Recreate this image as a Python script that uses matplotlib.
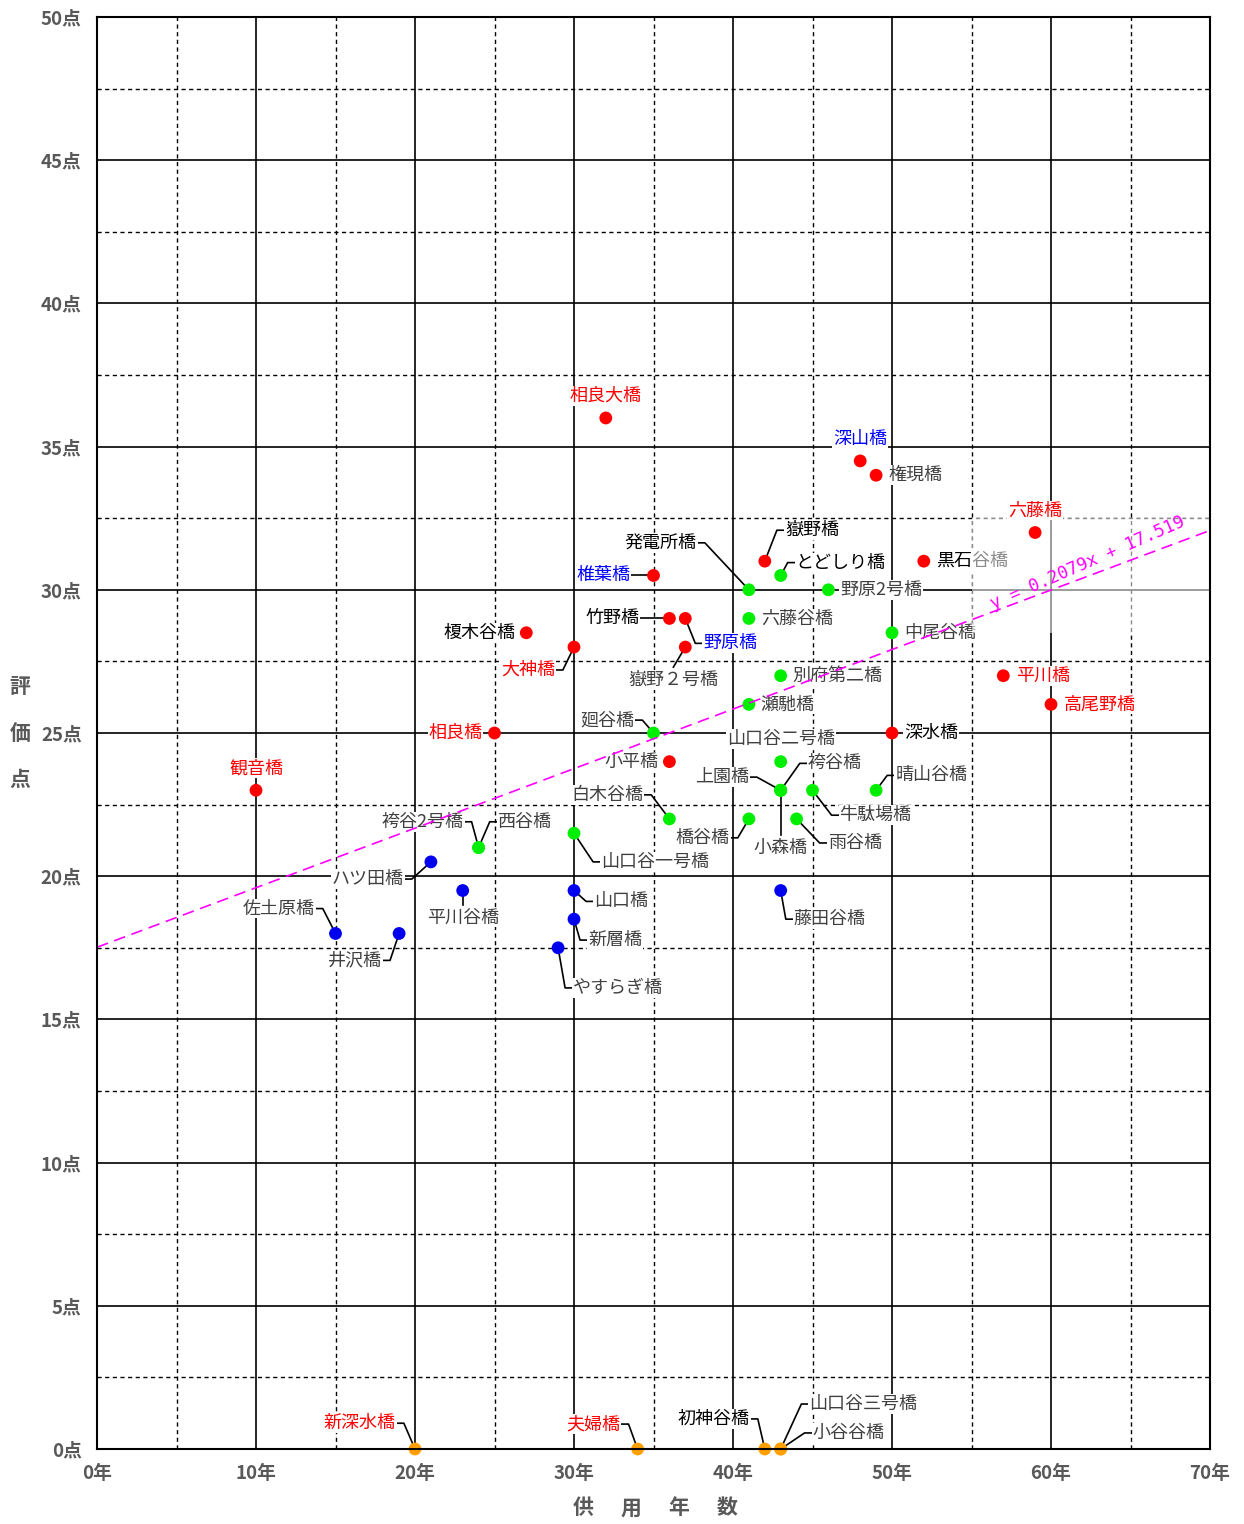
import matplotlib
matplotlib.use('Agg')
from matplotlib import pyplot as plt
from matplotlib.patches import Rectangle
from matplotlib.ticker import MultipleLocator

plt.rcParams['font.family'] = ['Noto Sans CJK JP', 'DejaVu Sans']

# --- data: bridges by group (years in service, score) ---
red_names = ['相良大橋', '深山橋', '権現橋', '六藤橋', '嶽野橋', '黒石谷橋', '椎葉橋',
             '竹野橋', '野原橋', '嶽野２号橋', '榎木谷橋', '大神橋', '平川橋', '高尾野橋',
             '相良橋', '深水橋', '小平橋', '観音橋']
red_years = [32, 48, 49, 59, 42, 52, 35, 36, 37, 37, 27, 30, 57, 60, 25, 50, 36, 10]
red_scores = [36, 34.5, 34, 32, 31, 31, 30.5, 29, 29, 28, 28.5, 28, 27, 26, 25, 25, 24, 23]

green_names = ['発電所橋', 'とどしり橋', '野原2号橋', '六藤谷橋', '中尾谷橋', '別府第二橋',
               '瀬馳橋', '廻谷橋', '山口谷二号橋', '袴谷橋', '上園橋', '小森橋', '牛駄場橋',
               '晴山谷橋', '白木谷橋', '橋谷橋', '雨谷橋', '西谷橋', '袴谷2号橋', '山口谷一号橋']
green_years = [41, 43, 46, 41, 50, 43, 41, 35, 43, 43, 43, 43, 45, 49, 36, 41, 44, 24, 24, 30]
green_scores = [30, 30.5, 30, 29, 28.5, 27, 26, 25, 24, 23, 23, 23, 23, 23, 22, 22, 22, 21, 21, 21.5]

blue_names = ['ハツ田橋', '平川谷橋', '佐土原橋', '井沢橋', '山口橋', '新層橋', 'やすらぎ橋', '藤田谷橋']
blue_years = [21, 23, 15, 19, 30, 30, 29, 43]
blue_scores = [20.5, 19.5, 18, 18, 19.5, 18.5, 17.5, 19.5]

orange_names = ['新深水橋', '夫婦橋', '初神谷橋', '山口谷三号橋', '小谷谷橋']
orange_years = [20, 34, 42, 43, 43]
orange_scores = [0, 0, 0, 0, 0]

trend_slope = 0.2079
trend_intercept = 17.519

red_text = ['相良大橋', '六藤橋', '大神橋', '相良橋', '観音橋', '平川橋', '高尾野橋', '新深水橋', '夫婦橋']
blue_text = ['深山橋', '椎葉橋', '野原橋']
black_text = ['嶽野橋', '発電所橋', '竹野橋', '榎木谷橋', '黒石谷橋', 'とどしり橋', '深水橋', '初神谷橋']

x_label_chars = ['供', '用', '年', '数']

# label placement: offset from point (years, points), alignment, leader type
label_layout = {
    '相良大橋': (0, 0.77, 'center', None),
    '深山橋': (0, 0.77, 'center', None),
    '権現橋': (0.75, 0, 'left', None),
    '六藤橋': (0, 0.77, 'center', None),
    '嶽野橋': (1.26, 1.08, 'left', 'elbow'),
    '黒石谷橋': (0.75, 0, 'left', None),
    '椎葉橋': (-1.45, 0, 'right', 'elbow'),
    '竹野橋': (-1.9, 0, 'right', 'elbow'),
    '野原橋': (1.13, -0.87, 'left', 'elbow'),
    '嶽野２号橋': (-0.75, -1.15, 'center', 'top'),
    '榎木谷橋': (-0.7, 0, 'right', None),
    '大神橋': (-1.2, -0.8, 'right', 'elbow'),
    '平川橋': (0.8, 0, 'left', None),
    '高尾野橋': (0.8, 0, 'left', None),
    '相良橋': (-0.75, 0, 'right', None),
    '深水橋': (0.75, 0, 'left', None),
    '小平橋': (-0.7, 0, 'right', None),
    '観音橋': (0, 0.77, 'center', None),
    '発電所橋': (-3.27, 1.64, 'right', 'elbow'),
    'とどしり橋': (0.94, 0.45, 'left', 'elbow'),
    '野原2号橋': (0.75, 0, 'left', None),
    '六藤谷橋': (0.75, 0, 'left', None),
    '中尾谷橋': (0.75, 0, 'left', None),
    '別府第二橋': (0.75, 0, 'left', None),
    '瀬馳橋': (0.75, 0, 'left', None),
    '廻谷橋': (-1.2, 0.45, 'right', 'elbow'),
    '山口谷二号橋': (0, 0.8, 'center', None),
    '袴谷橋': (1.7, 0.94, 'left', 'elbow'),
    '上園橋': (-2.0, 0.46, 'right', 'elbow'),
    '小森橋': (0, -2.0, 'center', 'top'),
    '牛駄場橋': (1.7, -0.87, 'left', 'elbow'),
    '晴山谷橋': (1.2, 0.52, 'left', 'elbow'),
    '白木谷橋': (-1.64, 0.84, 'right', 'elbow'),
    '橋谷橋': (-1.2, -0.66, 'right', 'elbow'),
    '雨谷橋': (1.95, -0.84, 'left', 'elbow'),
    '西谷橋': (1.2, 0.9, 'left', 'elbow'),
    '袴谷2号橋': (-0.94, 0.9, 'right', 'elbow'),
    '山口谷一号橋': (1.7, -1.0, 'left', 'elbow'),
    'ハツ田橋': (-1.7, -0.6, 'right', 'elbow'),
    '平川谷橋': (0, -0.94, 'center', 'top'),
    '佐土原橋': (-1.3, 0.87, 'right', 'elbow'),
    '井沢橋': (-1.07, -0.94, 'right', 'elbow'),
    '山口橋': (1.26, -0.38, 'left', 'elbow'),
    '新層橋': (0.88, -0.73, 'left', 'elbow'),
    'やすらぎ橋': (0.94, -1.4, 'left', 'elbow'),
    '藤田谷橋': (0.82, -1.0, 'left', 'elbow'),
    '新深水橋': (-1.2, 0.9, 'right', 'elbow'),
    '夫婦橋': (-1.07, 0.87, 'right', 'elbow'),
    '初神谷橋': (-0.94, 1.05, 'right', 'elbow'),
    '山口谷三号橋': (1.8, 1.57, 'left', 'elbow'),
    '小谷谷橋': (2.0, 0.56, 'left', 'elbow'),
}

groups = [
    (red_names, red_years, red_scores, '#ff0000'),
    (green_names, green_years, green_scores, '#00ee00'),
    (blue_names, blue_years, blue_scores, '#0000ee'),
    (orange_names, orange_years, orange_scores, '#ffa000'),
]

tick_color = '#595959'


def text_color(name):
    if name in red_text:
        return '#ff0000'
    if name in blue_text:
        return '#0000ff'
    if name in black_text:
        return 'black'
    return '#404040'


def draw_label(ax, name, x, y):
    dx, dy, ha, leader = label_layout[name]
    tx, ty = x + dx, y + dy
    ax.text(tx, ty, name, ha=ha, va='center', fontsize=13, color=text_color(name),
            bbox=dict(facecolor='white', edgecolor='none', pad=0.6), zorder=3)
    if leader == 'elbow':
        ex = tx - 0.5 if ha == 'left' else tx + 0.5
        ax.plot([tx, ex, x], [ty, ty, y], color='black', lw=1.2, zorder=2.5, clip_on=False)
    elif leader == 'top':
        ax.plot([x, tx], [y, ty + 0.45], color='black', lw=1.2, zorder=2.5)


fig = plt.figure(figsize=(12.44, 15.24), dpi=100)
ax = fig.add_axes([97 / 1244, 75 / 1524, 1113 / 1244, 1432 / 1524])
ax.set_xlim(0, 70)
ax.set_ylim(0, 50)

ax.xaxis.set_major_locator(MultipleLocator(10))
ax.xaxis.set_minor_locator(MultipleLocator(5))
ax.yaxis.set_major_locator(MultipleLocator(5))
ax.yaxis.set_minor_locator(MultipleLocator(2.5))
ax.set_axisbelow(True)
ax.grid(which='major', color='black', lw=1.2)
ax.grid(which='minor', color='black', lw=1.0, linestyle=(0, (3, 2.5)))

ax.set_xticks(range(0, 71, 10), [f'{v}年' for v in range(0, 71, 10)],
              fontweight='bold', color=tick_color, fontsize=13.5)
ax.set_yticks(range(0, 51, 5), [f'{v}点' for v in range(0, 51, 5)],
              fontweight='bold', color=tick_color, fontsize=13.5)
ax.tick_params(which='both', length=0)
ax.tick_params(axis='x', pad=11)
ax.tick_params(axis='y', pad=11)
for spine in ax.spines.values():
    spine.set_linewidth(1.5)
    spine.set_zorder(10)

# trendline
xs = [0, 70]
ax.plot(xs, [trend_slope * v + trend_intercept for v in xs], color='#ff00ff', lw=1.2,
        linestyle=(0, (7, 4)), zorder=5)
ax.add_patch(Rectangle((55, 28.5), 15, 4, facecolor='white', edgecolor='none',
                       alpha=0.55, zorder=3.5))
ax.text(62.3, 30.95, f'y = {trend_slope}x + {trend_intercept}', rotation=23.5,
        rotation_mode='anchor', ha='center', va='center', color='#ff00ff',
        fontsize=12.5, family='DejaVu Sans Mono', zorder=6)

for names, years, scores, color in groups:
    ax.scatter(years, scores, s=85, color=color, edgecolors='none', zorder=4, clip_on=False)
    for name, x, y in zip(names, years, scores):
        draw_label(ax, name, x, y)

fig.text(20 / 1244, 0.519, '評\n価\n点', ha='center', va='center', fontsize=15,
         fontweight='bold', color=tick_color, linespacing=2.5)
for i, ch in enumerate(x_label_chars):
    fig.text((655 + (i - 1.5) * 48) / 1244, 0.0105, ch, ha='center', va='center',
             fontsize=15, fontweight='bold', color=tick_color)

fig.savefig('out.png', dpi=100)
